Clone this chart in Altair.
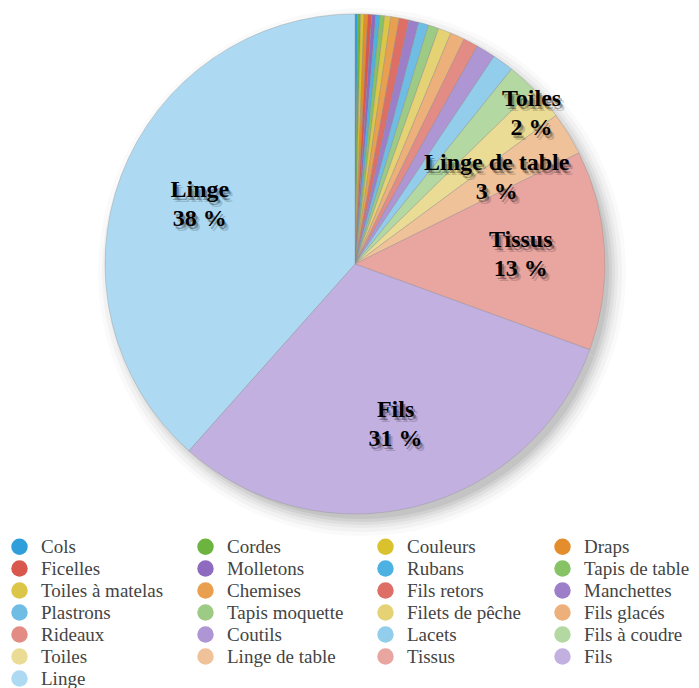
import altair as alt
import pandas as pd

categories = ["Cols", "Cordes", "Couleurs", "Draps", "Ficelles", "Molletons",
              "Rubans", "Tapis de table", "Toiles à matelas", "Chemises",
              "Fils retors", "Manchettes", "Plastrons", "Tapis moquette",
              "Filets de pêche", "Fils glacés", "Rideaux", "Coutils", "Lacets",
              "Fils à coudre", "Toiles", "Linge de table", "Tissus", "Fils", "Linge"]
values = [0.17, 0.19, 0.22, 0.24, 0.25, 0.26,
          0.27, 0.29, 0.40, 0.55,
          0.62, 0.64, 0.65, 0.68,
          0.83, 0.93, 0.95, 1.25, 1.38,
          1.90, 2.20, 2.80, 12.90, 31.00, 38.43]
colors = ["#2E9FDB", "#6DB33F", "#D9C22E", "#E38D2C", "#D9584E", "#8E6BBE",
          "#4DB1E2", "#87C265", "#DCC64A", "#E8A050", "#DD6F66", "#9D7FC9",
          "#6FBDE5", "#9DCB85", "#E5D274", "#EDB07A", "#E28C85", "#AE95D3",
          "#92CDEC", "#B4D8A2", "#EADC94", "#F0C29A", "#E9A5A0", "#C2B0E0",
          "#ADDAF2"]

df = pd.DataFrame({"category": categories, "value": values,
                   "idx": list(range(len(categories)))})

R = 250
CX, CY = 347, 256

base = alt.Chart(df).transform_joinaggregate(
    total="sum(value)"
).transform_calculate(
    pct="datum.value / datum.total * 100",
    big="datum.pct >= 2.5 ? datum.category + '\\n' + round(datum.pct) + ' %' : ''",
    small="datum.pct >= 2 && datum.pct < 2.5 ? datum.category + '\\n' + round(datum.pct) + ' %' : ''",
).encode(
    theta=alt.Theta("value:Q", stack=True),
    order=alt.Order("idx:Q", sort="ascending"),
    x=alt.value(CX),
    y=alt.value(CY),
)

shadows = []
for rr, op in [(R + 14, 0.02), (R + 10, 0.03), (R + 6, 0.035), (R + 3, 0.045), (R, 0.055), (R - 3, 0.06)]:
    shadows.append(base.mark_arc(radius=rr, color="black", opacity=op,
                                 xOffset=7, yOffset=8, strokeWidth=0))

pie = base.mark_arc(radius=R, stroke="#8a8a8a", strokeWidth=0.35).encode(
    color=alt.Color("category:N",
                    scale=alt.Scale(domain=categories, range=colors),
                    legend=alt.Legend(title=None, orient="none", legendX=2, legendY=529,
                                      direction="horizontal",
                                      columns=4, symbolType="circle", symbolSize=270,
                                      symbolStrokeWidth=0, labelFont="Liberation Serif",
                                      labelFontSize=19, labelColor="#444444",
                                      columnPadding=32, rowPadding=2,
                                      labelLimit=300, labelOffset=12))
)

def label_layer(field, rad, dx, dy, color, opacity):
    return base.mark_text(radius=rad, font="Liberation Serif", fontWeight="bold",
                          fontSize=24, lineBreak="\n", lineHeight=29,
                          align="center", baseline="middle", dx=dx, dy=dy - 14.5,
                          color=color, opacity=opacity).encode(
        text=alt.Text(f"{field}:N"))

labels = []
for field, rad in [("big", 166), ("small", 232)]:
    labels.append(label_layer(field, rad, 4, 5, "#000000", 0.15))
    labels.append(label_layer(field, rad, 2, 3, "#000000", 0.3))
    labels.append(label_layer(field, rad, 0, 0, "#000000", 1))

chart = alt.layer(*shadows, pie, *labels).properties(
    width=683, height=682,
    autosize=alt.AutoSizeParams(type="none"),
    padding=0,
).configure_view(stroke=None)

chart.save("out.html", embed_options={"renderer": "svg", "actions": False})
